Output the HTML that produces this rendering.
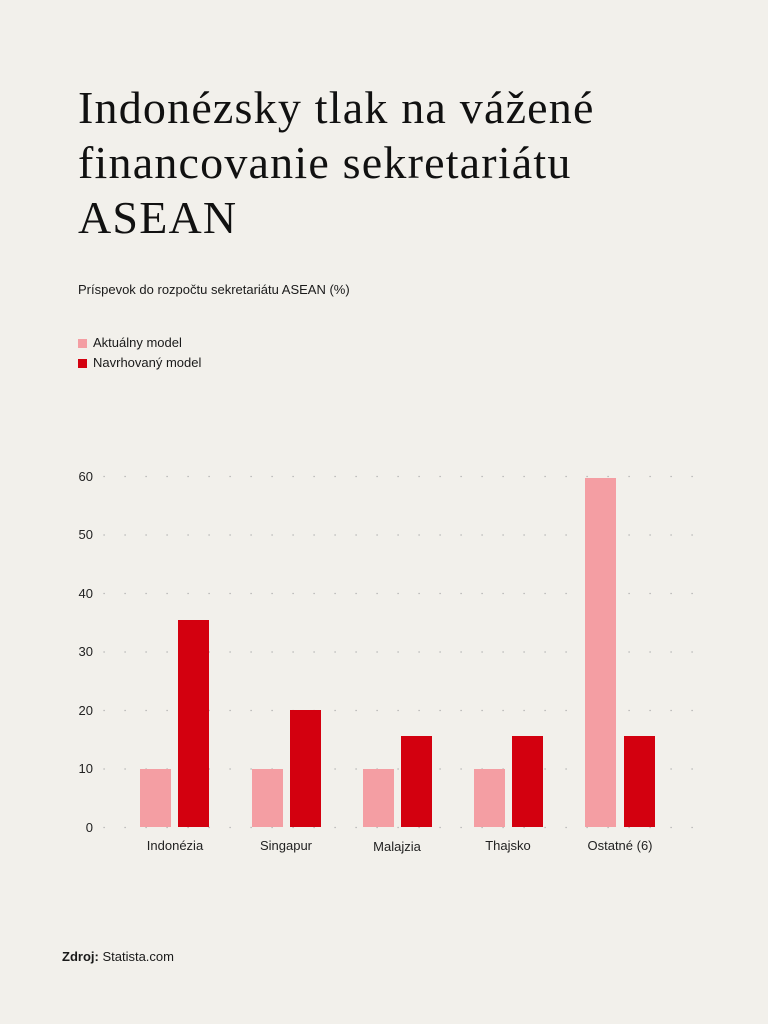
<!DOCTYPE html>
<html><head><meta charset="utf-8"><style>
body{margin:0;background:#f2f0eb;width:768px;height:1024px;overflow:hidden;position:relative;font-family:"Liberation Sans",sans-serif;color:#1a1a1a}
h1{position:absolute;left:78px;top:80px;margin:0;font-family:"Liberation Serif",serif;font-weight:normal;font-size:46px;line-height:55px;letter-spacing:1.2px;color:#111}
.t{position:absolute;font-size:13px}
.sq{position:absolute;width:9px;height:9px}
</style></head><body>
<h1>Indonézsky tlak na vážené<br>financovanie sekretariátu<br>ASEAN</h1>
<div class="t" style="left:78px;top:282px">Príspevok do rozpočtu sekretariátu ASEAN (%)</div>
<div class="sq" style="left:78px;top:339px;background:#f49ea3"></div>
<div class="t" style="left:93px;top:335px">Aktuálny model</div>
<div class="sq" style="left:78px;top:359px;background:#d3000f"></div>
<div class="t" style="left:93px;top:355px">Navrhovaný model</div>
<svg width="768" height="1024" style="position:absolute;left:0;top:0">
<g stroke="#aaa" stroke-width="1.2" stroke-dasharray="1.2 19.8">
<line x1="103.5" x2="695" y1="476.5" y2="476.5"/>
<line x1="103.5" x2="695" y1="535" y2="535"/>
<line x1="103.5" x2="695" y1="593.5" y2="593.5"/>
<line x1="103.5" x2="695" y1="652" y2="652"/>
<line x1="103.5" x2="695" y1="710.5" y2="710.5"/>
<line x1="103.5" x2="695" y1="769" y2="769"/>
<line x1="103.5" x2="695" y1="827.5" y2="827.5"/>
</g>
<g font-family="Liberation Sans" font-size="13" fill="#222" text-anchor="end">
<text x="93" y="481">60</text><text x="93" y="539">50</text><text x="93" y="598">40</text>
<text x="93" y="656">30</text><text x="93" y="715">20</text><text x="93" y="773">10</text><text x="93" y="832">0</text>
</g>
<g fill="#f49ea3">
<rect x="140" y="769" width="31" height="58"/><rect x="252" y="769" width="31" height="58"/>
<rect x="363" y="769" width="31" height="58"/><rect x="474" y="769" width="31" height="58"/>
<rect x="585" y="478" width="31" height="349"/>
</g>
<g fill="#d3000f">
<rect x="178" y="620" width="31" height="207"/><rect x="290" y="710" width="31" height="117"/>
<rect x="401" y="736" width="31" height="91"/><rect x="512" y="736" width="31" height="91"/>
<rect x="624" y="736" width="31" height="91"/>
</g>
<g font-family="Liberation Sans" font-size="13" fill="#222" text-anchor="middle">
<text x="175" y="850">Indonézia</text><text x="286" y="850">Singapur</text>
<text x="397" y="851">Malajzia</text><text x="508" y="850">Thajsko</text><text x="620" y="850">Ostatné (6)</text>
</g>
</svg>
<div class="t" style="left:62px;top:949px"><b>Zdroj:</b> Statista.com</div>
</body></html>
